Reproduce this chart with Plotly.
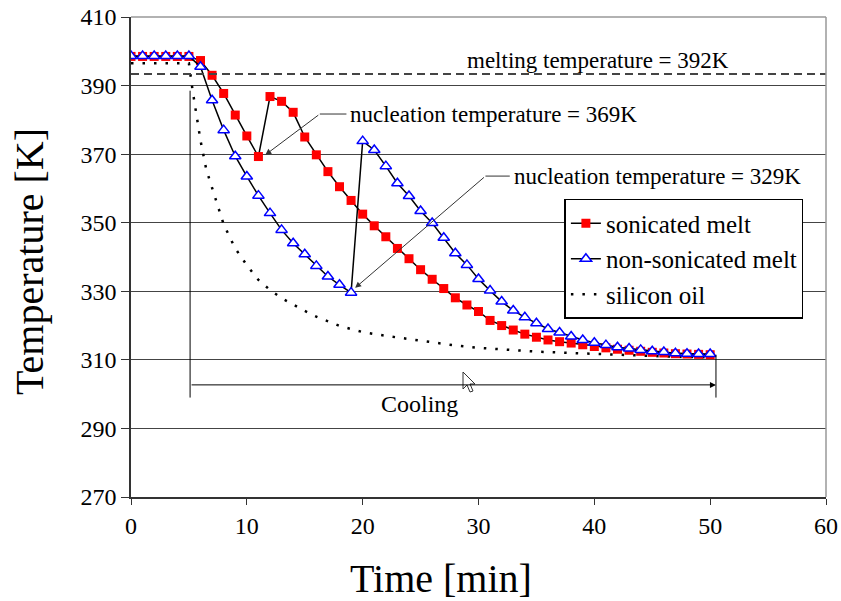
import plotly.graph_objects as go

# ---- data ----
time_min = list(range(0, 51))
sonicated = [398.5, 398.5, 398.5, 398.5, 398.5, 398.5, 397.3, 393.0, 387.7, 381.4,
             375.3, 369.3, 386.8, 385.4, 382.2, 375.0, 369.8, 364.9, 360.5, 356.5,
             352.5, 349.1, 345.9, 342.5, 339.5, 336.3, 333.5, 330.8, 328.1, 326.0,
             324.1, 321.5, 320.0, 318.7, 317.5, 316.6, 315.8, 315.3, 314.9, 314.4,
             313.9, 313.5, 313.1, 312.8, 312.5, 312.2, 312.0, 311.8, 311.7, 311.6, 311.5]
non_sonicated = [398.6, 398.6, 398.6, 398.6, 398.6, 398.6, 395.5, 385.7, 377.0, 369.4,
                 363.5, 357.9, 352.8, 347.9, 344.0, 340.8, 337.4, 334.3, 331.9, 329.6,
                 373.8, 371.2, 366.5, 361.5, 357.8, 353.4, 349.9, 345.6, 341.1, 337.7,
                 333.6, 330.2, 327.0, 324.4, 322.4, 320.7, 319.0, 318.0, 316.8, 315.8,
                 315.0, 314.3, 313.7, 313.3, 312.9, 312.5, 312.3, 311.9, 311.8, 311.7, 311.7]
oil_time = [0, 1, 2, 3, 4, 5, 5.3, 5.7, 6, 6.5, 7, 7.5, 8, 9, 10, 11, 12, 13, 14, 15,
            16, 17, 18, 19, 20, 22, 24, 26, 28, 30, 32, 35, 38, 41, 44, 47, 50]
silicon_oil = [396.5, 396.5, 396.5, 396.5, 396.5, 396.5, 389.0, 380.5, 374.0, 365.5,
               360.2, 354.2, 349.5, 342.5, 337.6, 333.3, 330.4, 328.0, 326.1, 324.3,
               322.6, 321.2, 319.9, 319.0, 318.1, 317.0, 316.0, 315.0, 314.2, 313.5,
               313.0, 312.4, 312.0, 311.6, 311.2, 310.9, 310.7]

melting_temp_line = 393.4
x_ticks = [0, 10, 20, 30, 40, 50, 60]
y_ticks = [270, 290, 310, 330, 350, 370, 390, 410]

FONT = "Liberation Serif"
AX = "#333333"

fig = go.Figure()

fig.add_trace(go.Scatter(
    x=oil_time, y=silicon_oil, mode="lines", name="silicon oil",
    line=dict(color="black", width=2.5, dash="2.5px,9px"), legendgroup="c", legendrank=3))
fig.add_trace(go.Scatter(
    x=time_min, y=sonicated, mode="lines+markers", name="sonicated melt",
    line=dict(color="black", width=1.5),
    marker=dict(symbol="square", size=9, color="#ff0000", line=dict(width=0)),
    legendgroup="a", legendrank=1))
fig.add_trace(go.Scatter(
    x=time_min, y=non_sonicated, mode="lines+markers", name="non-sonicated melt",
    line=dict(color="black", width=1.5),
    marker=dict(symbol="triangle-up", size=10, color="white", line=dict(width=1.5, color="#0000ff")),
    legendgroup="b", legendrank=2))

shapes = []
# melting temperature dashed line
shapes.append(dict(type="line", xref="paper", yref="y", x0=0, x1=1,
                   y0=melting_temp_line, y1=melting_temp_line,
                   line=dict(color="#444444", width=2, dash="8px,5px"), layer="above"))
# top and right borders
shapes.append(dict(type="line", xref="paper", yref="paper", x0=0, x1=1, y0=1, y1=1,
                   line=dict(color="#999999", width=1.5)))
shapes.append(dict(type="line", xref="paper", yref="paper", x0=1, x1=1, y0=0, y1=1,
                   line=dict(color="#999999", width=1.5)))
# cooling bracket
cool_start, cool_end, cool_y = 5.1, 50.5, 302.7
shapes.append(dict(type="line", xref="x", yref="y", x0=cool_start, x1=cool_start, y0=299, y1=388.5,
                   line=dict(color="black", width=1)))
shapes.append(dict(type="line", xref="x", yref="y", x0=cool_end, x1=cool_end, y0=299, y1=311.5,
                   line=dict(color="black", width=1)))
# nucleation leader horizontal segments
shapes.append(dict(type="line", xref="x", yref="y", x0=16.3, x1=18.6, y0=381.7, y1=381.7,
                   line=dict(color="#333333", width=1)))
shapes.append(dict(type="line", xref="x", yref="y", x0=30.6, x1=32.7, y0=363.6, y1=363.6,
                   line=dict(color="#333333", width=1)))
# mouse cursor (screenshot artifact)
px_x = 60 / 695.0
px_y = 140 / 480.0
cx, cy = (463 - 131) * px_x, 410 - (372 - 17) * px_y
pts = [(0, 0), (0, 17), (4, 13), (7, 20), (10, 19), (7, 12), (12, 12)]
path = "M " + " L ".join(f"{cx + a * px_x:.4f},{cy - b * px_y:.4f}" for a, b in pts) + " Z"
shapes.append(dict(type="path", xref="x", yref="y", path=path, fillcolor="white",
                   line=dict(color="#333333", width=1)))

ANN_SIZE = 23
annotations = [
    dict(x=cool_end, y=cool_y, ax=cool_start, ay=cool_y, xref="x", yref="y", axref="x", ayref="y",
         text="", showarrow=True, arrowhead=2, arrowsize=1.2, arrowwidth=1, arrowcolor="black"),
    dict(x=11.6, y=369.8, ax=16.3, ay=381.7, xref="x", yref="y", axref="x", ayref="y",
         text="", showarrow=True, arrowhead=2, arrowsize=1.2, arrowwidth=1, arrowcolor="#333333"),
    dict(x=19.35, y=331.0, ax=30.6, ay=363.6, xref="x", yref="y", axref="x", ayref="y",
         text="", showarrow=True, arrowhead=2, arrowsize=1.2, arrowwidth=1, arrowcolor="#333333"),
    dict(x=28.8, y=397.3, xref="x", yref="y", text="melting temperature = 392K", showarrow=False,
         xanchor="left", yanchor="middle", font=dict(family=FONT, size=ANN_SIZE, color="black")),
    dict(x=18.75, y=381.7, xref="x", yref="y", text="nucleation temperature = 369K", showarrow=False,
         xanchor="left", yanchor="middle", font=dict(family=FONT, size=ANN_SIZE, color="black")),
    dict(x=32.85, y=363.6, xref="x", yref="y", text="nucleation temperature = 329K", showarrow=False,
         xanchor="left", yanchor="middle", font=dict(family=FONT, size=ANN_SIZE, color="black")),
    dict(x=24.9, y=297.0, xref="x", yref="y", text="Cooling", showarrow=False,
         xanchor="center", yanchor="middle", font=dict(family=FONT, size=24, color="black")),
    # axis titles
    dict(x=0.446, y=-0.169, xref="paper", yref="paper", text="Time [min]", showarrow=False,
         xanchor="center", yanchor="middle", font=dict(family=FONT, size=40, color="black")),
    dict(x=-0.145, y=0.49, xref="paper", yref="paper", text="Temperature [K]", showarrow=False,
         textangle=-90, xanchor="center", yanchor="middle",
         font=dict(family=FONT, size=40, color="black")),
]

fig.update_layout(
    width=841, height=601,
    margin=dict(l=131, r=15, t=17, b=104, autoexpand=False),
    paper_bgcolor="white", plot_bgcolor="white",
    font=dict(family=FONT, color="black"),
    shapes=shapes, annotations=annotations,
    legend=dict(x=0.6236, y=0.621, xanchor="left", yanchor="top",
                bgcolor="white", bordercolor="black", borderwidth=1.5,
                font=dict(family=FONT, size=25, color="black"),
                tracegroupgap=9, traceorder="normal"),
    xaxis=dict(range=[0, 60], tickvals=x_ticks, ticktext=[str(v) for v in x_ticks],
               showgrid=False, zeroline=False, showline=True, linecolor=AX, linewidth=1.5,
               ticks="outside", ticklen=6, tickcolor=AX, automargin=False,
               tickfont=dict(family=FONT, size=24, color="black")),
    yaxis=dict(range=[270, 410], tickvals=y_ticks, ticktext=[str(v) for v in y_ticks],
               showgrid=True, gridcolor="#444444", gridwidth=1, zeroline=False,
               showline=True, linecolor=AX, linewidth=1.5,
               ticks="outside", ticklen=8, tickcolor=AX, automargin=False,
               tickfont=dict(family=FONT, size=24, color="black")),
    showlegend=True,
)

fig.write_html("out.html", config={"displayModeBar": False},
               post_script="document.body.style.margin='0px';")
